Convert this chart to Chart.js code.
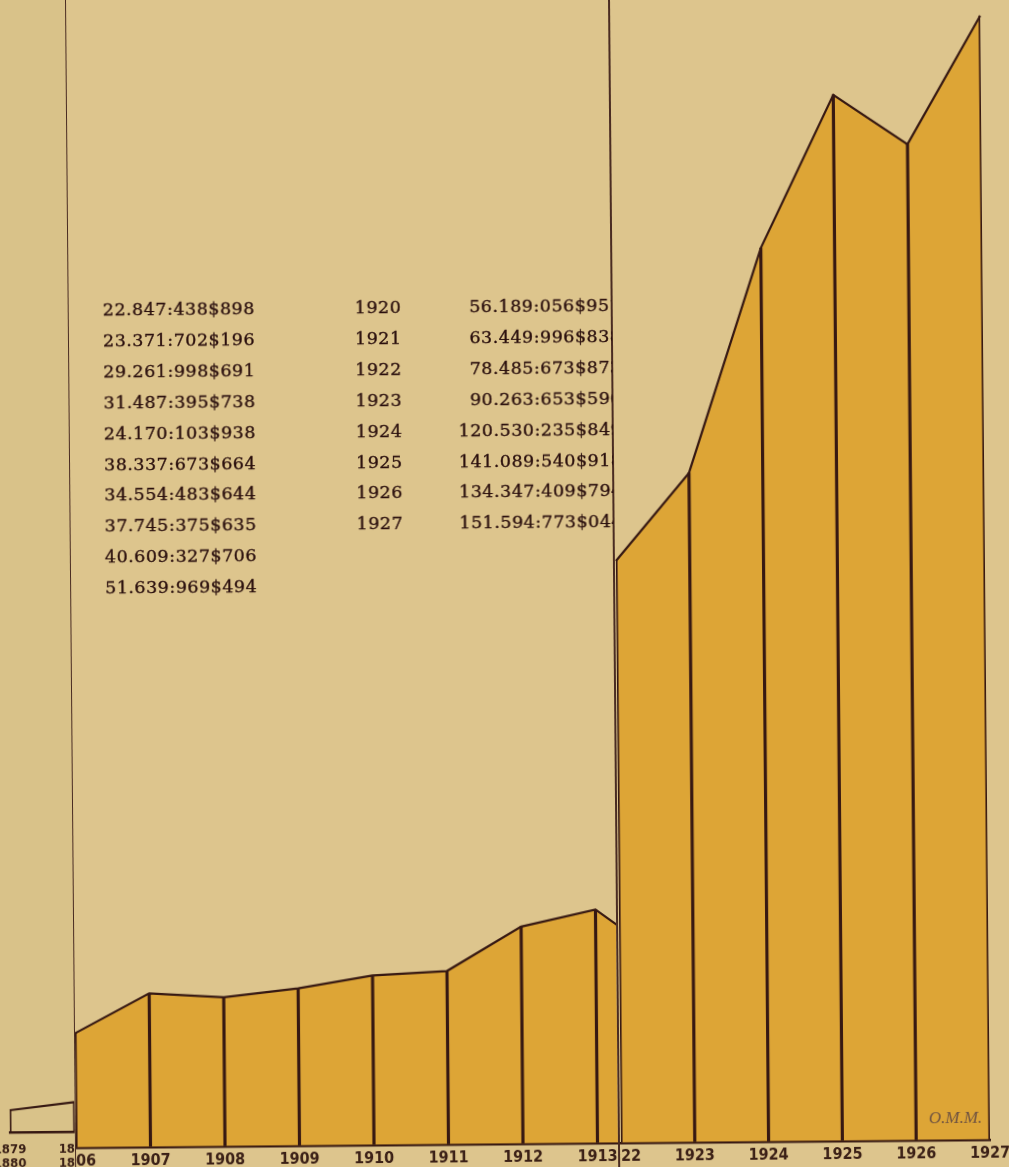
<!DOCTYPE html>
<html>
<head>
<meta charset="utf-8">
<script src="https://cdn.jsdelivr.net/npm/chart.js@4.4.1/dist/chart.umd.min.js"></script>
<style>
html, body { margin: 0; padding: 0; }
body { width: 1009px; height: 1167px; overflow: hidden; background: #ddc58d; position: relative; }
#page { position: absolute; left: 0; top: 0; width: 1009px; height: 1167px; transform: rotate(-0.5deg); transform-origin: 500px 1144px; }
#strip { position: absolute; left: -20px; top: -20px; width: 95px; height: 1220px; background: rgba(90, 70, 20, 0.025); }
.panel { position: absolute; top: -20px; height: 1210px; overflow: hidden; }
.panel canvas { position: absolute; }
.fold { position: absolute; top: -20px; height: 1210px; width: 1.5px; background: #4a2c22; }
.table { position: absolute; font-family: 'DejaVu Serif', serif; font-size: 17.5px; line-height: 30.9px; letter-spacing: 0.5px; color: #2a0f0d; -webkit-text-stroke: 0.35px #2a0f0d; white-space: nowrap; }
#clip3 { position: absolute; left: 430px; top: 291px; width: 188.5px; height: 260px; overflow: hidden; }
#col3 { position: absolute; right: -10px; top: 0; text-align: right; }
#sig { position: absolute; left: 929px; top: 1112px; font-family: 'Liberation Serif', serif; font-style: italic; font-size: 17px; color: #6e5240; }
</style>
</head>
<body>
<div id="page">
  <div id="strip"></div>
  <div class="panel" id="leftPanel"><canvas></canvas></div>
  <div class="panel" id="midPanel"><canvas></canvas></div>
  <div class="panel" id="rightPanel"><canvas></canvas></div>
  <div class="fold" style="left:74.5px"></div>
  <div class="fold" style="left:618px"></div>
  <div class="table" id="col1" style="left:110px; top:291px;"></div>
  <div class="table" id="col2" style="left:362px; top:291px;"></div>
  <div id="clip3"><div class="table" id="col3"></div></div>
  <div id="sig">O.M.M.</div>
</div>
<script>
// values in millions
const leftYears = [['1879', '1880'], ['1880', '1881']];
const leftValues = [3.06, 4.1];

const midYears = ['1906', '1907', '1908', '1909', '1910', '1911', '1912', '1913', '1914'];
const midValues = [15.4, 20.7, 20.1, 21.2, 22.847, 23.371, 29.261, 31.487, 24.170];

const rightYears = ['1922', '1923', '1924', '1925', '1926', '1927'];
const rightValues = [78.485, 90.263, 120.530, 141.089, 134.347, 151.594];

// printed table
const tableFirst = ['22.847:438$898', '23.371:702$196', '29.261:998$691', '31.487:395$738', '24.170:103$938',
    '38.337:673$664', '34.554:483$644', '37.745:375$635', '40.609:327$706', '51.639:969$494'];
const tableYears = ['1920', '1921', '1922', '1923', '1924', '1925', '1926', '1927'];
const tableSecond = ['56.189:056$951', '63.449:996$838', '78.485:673$873', '90.263:653$596',
    '120.530:235$849', '141.089:540$918', '134.347:409$794', '151.594:773$044'];

const PX_PER_M = 7.42;
const ink = '#361812';
const gold = '#dda536';
const tickFont = { family: "'Liberation Sans Narrow', 'DejaVu Sans Condensed', sans-serif", size: 16, weight: 'bold' };

document.getElementById('col1').innerHTML = tableFirst.join('<br>');
document.getElementById('col2').innerHTML = tableYears.join('<br>');
document.getElementById('col3').innerHTML = tableSecond.join('<br>');

function makePanel(id, labels, values, opt) {
    const wrap = document.getElementById(id);
    const canvas = wrap.querySelector('canvas');
    const pad = 40;
    canvas.width = (opt.lastX - opt.firstX) + pad * 2;
    canvas.height = 1220;
    wrap.style.left = opt.clipL + 'px';
    wrap.style.width = (opt.clipR - opt.clipL) + 'px';
    canvas.style.left = (opt.firstX - pad - opt.clipL) + 'px';

    const chart = new Chart(canvas, {
        data: {
            labels: labels,
            datasets: [{
                type: 'bar',
                data: values,
                backgroundColor: ink,
                barThickness: 2.5,
                order: 0
            }, {
                type: 'line',
                data: values,
                borderColor: ink,
                borderWidth: 2.2,
                backgroundColor: opt.fill,
                fill: opt.fill ? 'origin' : false,
                pointRadius: 0,
                tension: 0,
                order: 1
            }]
        },
        options: {
            responsive: false,
            animation: false,
            devicePixelRatio: 1,
            layout: { padding: { left: pad, right: pad, top: 0, bottom: 0 } },
            plugins: { legend: { display: false }, tooltip: { enabled: false } },
            scales: {
                x: {
                    offset: false,
                    grid: { display: false, drawTicks: false },
                    border: { display: true, color: ink, width: 2.5 },
                    ticks: { color: '#3b2016', font: opt.font || tickFont, padding: opt.tickPad, maxRotation: 0, autoSkip: false }
                },
                y: { display: false, min: 0, max: 150 }
            }
        }
    });

    // scale so that one million equals PX_PER_M pixels, baseline at opt.base
    const area = chart.chartArea;
    chart.options.scales.y.max = (area.bottom - area.top) / PX_PER_M;
    chart.update();
    canvas.style.top = (opt.base + 20 - area.bottom) + 'px';
    return chart;
}

makePanel('leftPanel', leftYears, leftValues, {
    firstX: 9.6, lastX: 75, clipL: 0, clipR: 75, base: 1128.4, fill: null, tickPad: 10,
    font: { family: tickFont.family, size: 13, weight: 'bold', lineHeight: 1.05 }
});
makePanel('midPanel', midYears, midValues, {
    firstX: 75.5, lastX: 671.5, clipL: 75, clipR: 618, base: 1144, fill: gold, tickPad: 4
});
makePanel('rightPanel', rightYears, rightValues, {
    firstX: 621, lastX: 990.8, clipL: 619.5, clipR: 1030, base: 1144, fill: gold, tickPad: 4
});
</script>
</body>
</html>
